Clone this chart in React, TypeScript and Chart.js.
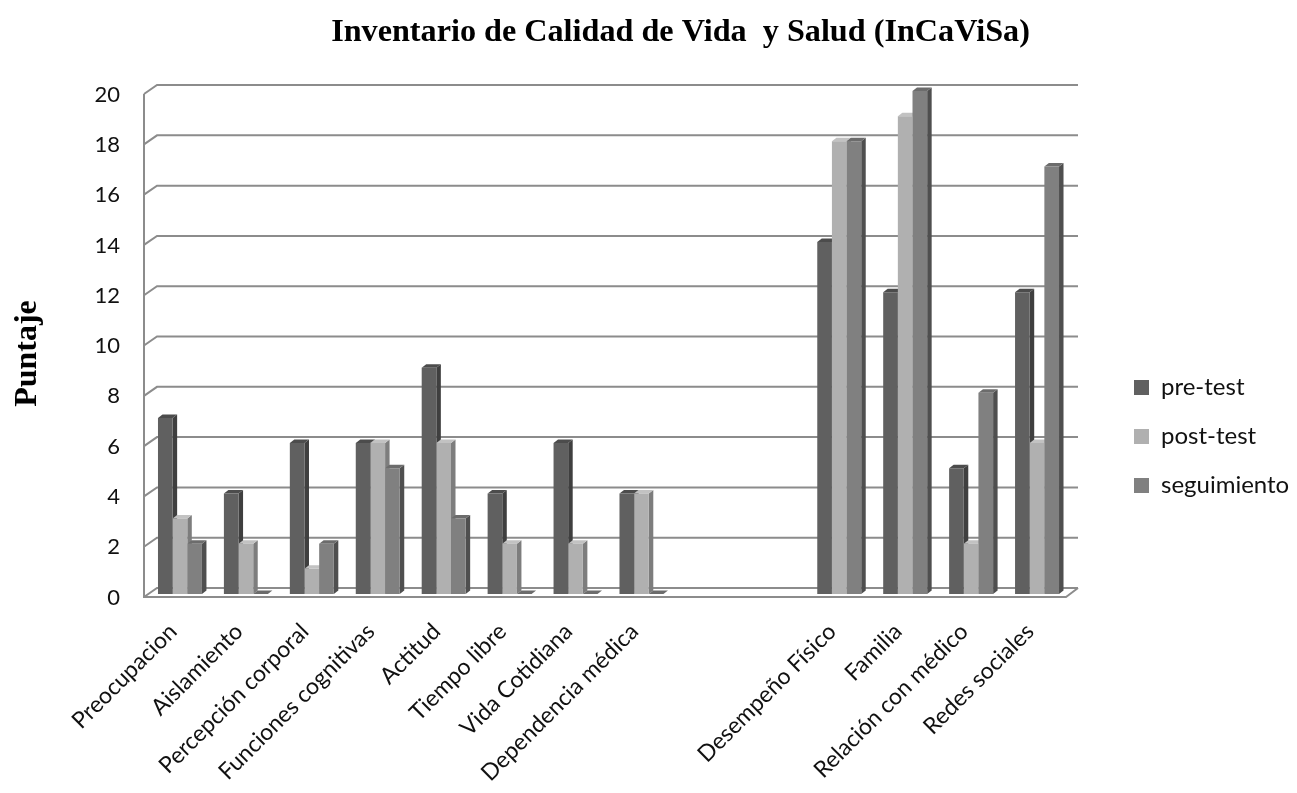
import { useEffect, useRef } from "react";
import { Chart, registerables } from "chart.js";

Chart.register(...registerables);

const categories = [
  "Preocupacion", "Aislamiento", "Percepción corporal", "Funciones cognitivas", "Actitud",
  "Tiempo libre", "Vida Cotidiana", "Dependencia médica", "", "",
  "Desempeño Físico", "Familia", "Relación con médico", "Redes sociales",
];
const preTest = [7, 4, 6, 6, 9, 4, 6, 4, null, null, 14, 12, 5, 12];
const postTest = [3, 2, 1, 6, 6, 2, 2, 4, null, null, 18, 19, 2, 6];
const seguimiento = [2, 0, 2, 5, 3, 0, 0, 0, null, null, 18, 20, 8, 17];
const titleText = "Inventario de Calidad de Vida  y Salud (InCaViSa)";
const yTitle = "Puntaje";

const DEPTH_X = 4.5;
const DEPTH_Y = 3.5;
const faces = [
  { side: "#3f3f3f", top: "#4c4c4c" },
  { side: "#7d7d7d", top: "#c2c2c2" },
  { side: "#4f4f4f", top: "#6c6c6c" },
];

const shifted = (scale: any, name: string, dx: number, dy: number) => {
  if (scale["__" + name]) return;
  scale["__" + name] = true;
  const orig = scale[name];
  scale[name] = function (...args: any[]) {
    const c = this.ctx;
    c.save();
    c.translate(dx, dy);
    orig.apply(this, args);
    c.restore();
  };
};

const depthPlugin = {
  id: "depth",
  beforeLayout(chart: any) {
    const legend = chart.legend;
    if (!legend.__fit) {
      legend.__fit = true;
      const fit = legend.fit;
      legend.fit = function () {
        fit.call(this);
        this.width = 227;
      };
    }
  },
  afterLayout(chart: any) {
    chart.titleBlock.left += 64;
    chart.legend.left += 39;
    chart.legend.right += 39;
    chart.legend.top += 40;
    chart.legend.bottom += 40;
    shifted(chart.scales.y, "drawLabels", 0, 3.5);
    shifted(chart.scales.y, "drawTitle", 0, 11);
    shifted(chart.scales.x, "drawLabels", -7, 6);
  },
  beforeDatasetsDraw(chart: any) {
    const { ctx, scales } = chart;
    const y = scales.y;
    const xFront = 144;
    const xEnd = 1066;
    const backDx = 13;
    const frontDy = 3;
    const backDy = -6;
    ctx.save();
    ctx.strokeStyle = "#8c8c8c";
    ctx.lineWidth = 2;
    y.ticks.forEach((_t: any, i: number) => {
      const p = y.getPixelForTick(i);
      ctx.beginPath();
      ctx.moveTo(xFront, p + frontDy);
      ctx.lineTo(xFront + backDx, p + backDy);
      ctx.lineTo(xEnd + 12, p + backDy);
      ctx.stroke();
    });
    const p0 = y.getPixelForValue(0);
    const p20 = y.getPixelForValue(20);
    ctx.beginPath();
    ctx.moveTo(xFront, p20 + frontDy);
    ctx.lineTo(xFront, p0 + frontDy);
    ctx.lineTo(xEnd, p0 + frontDy);
    ctx.lineTo(xEnd + 12, p0 + backDy);
    ctx.stroke();

    chart.data.datasets.forEach((_d: any, di: number) => {
      const meta = chart.getDatasetMeta(di);
      meta.data.forEach((bar: any, i: number) => {
        if (chart.data.datasets[di].data[i] == null) return;
        const { x, y: top, base, width } = bar.getProps(["x", "y", "base", "width"], true);
        const l = x - width / 2;
        const r = x + width / 2;
        ctx.fillStyle = faces[di].side;
        ctx.beginPath();
        ctx.moveTo(r, top);
        ctx.lineTo(r + DEPTH_X, top - DEPTH_Y);
        ctx.lineTo(r + DEPTH_X, base - DEPTH_Y);
        ctx.lineTo(r, base);
        ctx.closePath();
        ctx.fill();
        ctx.fillStyle = faces[di].top;
        ctx.beginPath();
        ctx.moveTo(l, top);
        ctx.lineTo(l + DEPTH_X, top - DEPTH_Y);
        ctx.lineTo(r + DEPTH_X, top - DEPTH_Y);
        ctx.lineTo(r, top);
        ctx.closePath();
        ctx.fill();
      });
    });
    ctx.restore();
  },
};

export default function App() {
  const ref = useRef<HTMLCanvasElement>(null);
  useEffect(() => {
    if (!ref.current) return;
    const chart = new Chart(ref.current, {
      type: "bar",
      data: {
        labels: categories,
        datasets: [
          { label: "pre-test", data: preTest, backgroundColor: "#606060" },
          { label: "post-test", data: postTest, backgroundColor: "#b0b0b0" },
          { label: "seguimiento", data: seguimiento, backgroundColor: "#808080" },
        ],
      },
      plugins: [depthPlugin],
      options: {
        responsive: false,
        animation: false,
        events: [],
        datasets: { bar: { categoryPercentage: 0.667, barPercentage: 1 } },
        layout: { padding: 0 },
        plugins: {
          tooltip: { enabled: false },
          title: {
            display: true,
            text: titleText,
            color: "#000",
            font: { family: "Liberation Serif", size: 32.2, weight: "bold" },
            padding: { top: 13, bottom: 39.4 },
          },
          legend: {
            position: "right",
            labels: {
              boxWidth: 15,
              boxHeight: 15,
              padding: 25,
              color: "#111",
              font: { family: "Lato", size: 24 },
            },
          },
        },
        scales: {
          x: {
            grid: { display: false, drawTicks: false },
            border: { display: false },
            afterFit: (s: any) => {
              s.height = 199;
            },
            ticks: {
              autoSkip: false,
              minRotation: 45,
              maxRotation: 45,
              padding: 18,
              color: "#111",
              font: { family: "Lato", size: 23 },
            },
          },
          y: {
            min: 0,
            max: 20,
            grid: { display: false, drawTicks: false },
            border: { display: false },
            afterFit: (s: any) => {
              s.width = 147;
            },
            ticks: {
              stepSize: 2,
              padding: 27,
              color: "#111",
              font: { family: "Lato", size: 22 },
            },
            title: {
              display: true,
              text: yTitle,
              color: "#000",
              font: { family: "Liberation Serif", size: 32, weight: "bold" },
              padding: { top: 9, bottom: 0 },
            },
          },
        },
      },
    } as any);
    return () => chart.destroy();
  }, []);
  return (
    <canvas
      ref={ref}
      width={1297}
      height={793}
      style={{ position: "absolute", left: 0, top: 0, width: 1297, height: 793, filter: "blur(0.5px)" }}
    />
  );
}
